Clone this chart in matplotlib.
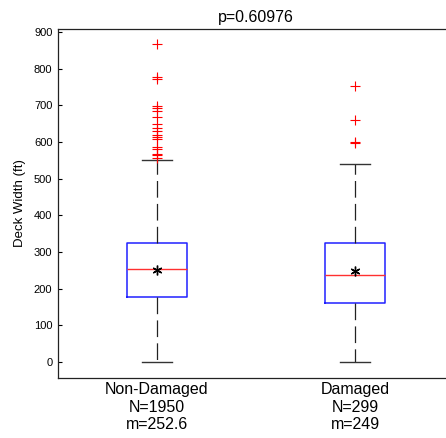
import matplotlib
matplotlib.use('Agg')
import matplotlib.pyplot as plt

plt.rcParams['font.family'] = ['Liberation Sans', 'DejaVu Sans']
plt.rcParams['lines.scale_dashes'] = False

# 資料：箱形圖統計值
groups = ['Non-Damaged', 'Damaged']
counts = [1950, 299]
mean_labels = ['252.6', '249']
medians = [253, 236]
q1 = [176, 161]
q3 = [323, 323]
whisker_lo = [0, 0]
whisker_hi = [550, 539]
means = [250, 248]
outliers = [
    [867, 776, 771, 699, 691, 683, 667, 649, 638, 630, 618, 612, 608,
     587, 580, 567, 563, 557],
    [753, 660, 600, 597],
]
p_value = '0.60976'

stats = []
for i in range(len(groups)):
    stats.append({
        'med': medians[i], 'q1': q1[i], 'q3': q3[i],
        'whislo': whisker_lo[i], 'whishi': whisker_hi[i],
        'mean': means[i], 'fliers': outliers[i],
        'label': f'{groups[i]}\nN={counts[i]}\nm={mean_labels[i]}',
    })

fig = plt.figure(figsize=(4.46, 4.38), dpi=100)
ax = fig.add_axes([0.130, 0.137, 0.888, 0.797])

ax.bxp(
    stats, positions=[1, 2], widths=0.3, showmeans=True,
    boxprops=dict(color='#2020ff', linewidth=1.1),
    medianprops=dict(color='#ff3030', linewidth=1.0),
    whiskerprops=dict(color='#222222', linewidth=0.9, linestyle=(0, (12, 4.5))),
    capprops=dict(color='#333333', linewidth=1.0),
    flierprops=dict(marker='+', markeredgecolor='#ff0000', markersize=7,
                    markeredgewidth=0.8, linestyle='none'),
    meanprops=dict(marker=(6, 2, 0), markeredgecolor='black', markersize=7,
                   markeredgewidth=1.0, linestyle='none'),
)

ax.set_xlim(0.5, 2.5)
ax.set_ylim(-44, 908)
ax.set_yticks(range(0, 901, 100))
ax.tick_params(axis='y', direction='in', length=3, labelsize=8, pad=4)
ax.tick_params(axis='x', length=0, labelsize=11.5, pad=3)
for s in ax.spines.values():
    s.set_linewidth(0.9)
    s.set_color('#222222')

ax.set_ylabel('Deck Width (ft)', fontsize=9.5, labelpad=6)
ax.set_title(f'p={p_value}', fontsize=11.5, pad=5)

fig.savefig('out.png', dpi=100)
